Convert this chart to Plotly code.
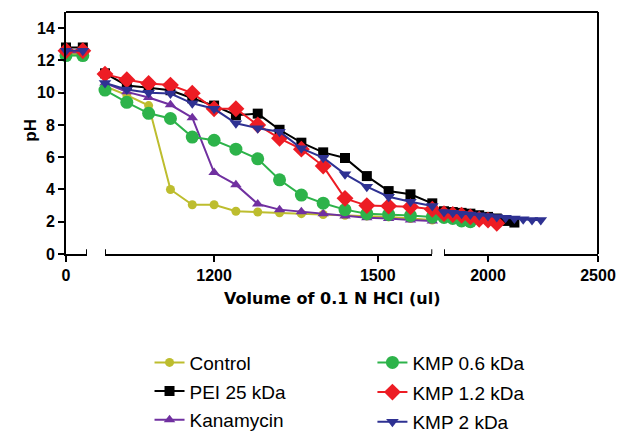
import plotly.graph_objects as go

# ---------------- data ----------------
X_SEG1 = [0, 80]
X_SEG2 = [1000, 1040, 1080, 1120, 1160, 1200, 1240, 1280, 1320, 1360, 1400, 1440, 1480, 1520, 1560, 1600]

control_seg1 = [12.4, 12.4]
control_seg2 = [10.4, 9.85, 9.2, 4.0, 3.05, 3.05, 2.65, 2.6, 2.55, 2.5, 2.45, 2.4, 2.35, 2.3, 2.2, 2.1]
control_x3 = []
control_seg3 = []

pei_seg1 = [12.8, 12.8]
pei_seg2 = [11.2, 10.45, 10.3, 10.15, 9.65, 9.2, 8.6, 8.7, 7.7, 6.9, 6.3, 5.95, 4.83, 3.9, 3.7, 3.14]
pei_x3 = [1800, 1840, 1880, 1920, 1960, 2000, 2040, 2080, 2120]
pei_seg3 = [2.65, 2.6, 2.55, 2.5, 2.4, 2.3, 2.2, 2.05, 1.95]

kana_seg1 = [12.5, 12.5]
kana_seg2 = [10.6, 10.05, 9.7, 9.25, 8.45, 5.05, 4.3, 3.1, 2.75, 2.62, 2.5, 2.35, 2.25, 2.2, 2.1, 2.05]
kana_x3 = []
kana_seg3 = []

kmp06_seg1 = [12.3, 12.3]
kmp06_seg2 = [10.16, 9.4, 8.72, 8.4, 7.25, 7.05, 6.5, 5.9, 4.6, 3.65, 3.15, 2.75, 2.5, 2.45, 2.38, 2.3]
kmp06_x3 = [1800, 1840, 1880, 1920]
kmp06_seg3 = [2.27, 2.2, 2.05, 2.0]

kmp12_seg1 = [12.6, 12.6]
kmp12_seg2 = [11.15, 10.8, 10.57, 10.47, 9.97, 9.0, 9.0, 8.0, 7.17, 6.5, 5.45, 3.45, 3.0, 2.97, 2.93, 2.77]
kmp12_x3 = [1800, 1840, 1880, 1920, 1960, 2000, 2040]
kmp12_seg3 = [2.5, 2.45, 2.4, 2.3, 2.15, 2.1, 1.9]

kmp2_seg1 = [12.6, 12.6]
kmp2_seg2 = [10.6, 10.2, 10.0, 9.95, 9.34, 9.0, 8.1, 7.8, 7.58, 6.55, 5.97, 4.95, 4.17, 3.55, 3.24, 2.97]
kmp2_x3 = [1800, 1840, 1880, 1920, 1960, 2000, 2040, 2080, 2120, 2160, 2200, 2240]
kmp2_seg3 = [2.6, 2.55, 2.5, 2.45, 2.4, 2.35, 2.3, 2.25, 2.2, 2.15, 2.1, 2.1]

X_TICKS1 = [0]
X_TICKS2 = [1200, 1500]
X_TICKS3 = [2000, 2500]
Y_TICKS = [0, 2, 4, 6, 8, 10, 12, 14]

series = [
    # name, seg1, seg2, x3, seg3, color, symbol, size, legend
    ("Control", control_seg1, control_seg2, control_x3, control_seg3, "#BDBD2E", "circle", 9, "legend"),
    ("PEI 25 kDa", pei_seg1, pei_seg2, pei_x3, pei_seg3, "#000000", "square", 10, "legend"),
    ("Kanamycin", kana_seg1, kana_seg2, kana_x3, kana_seg3, "#7030A0", "triangle-up", 10, "legend"),
    ("KMP 0.6 kDa", kmp06_seg1, kmp06_seg2, kmp06_x3, kmp06_seg3, "#2DB34A", "circle", 13, "legend2"),
    ("KMP 1.2 kDa", kmp12_seg1, kmp12_seg2, kmp12_x3, kmp12_seg3, "#ED1C24", "diamond", 13, "legend2"),
    ("KMP 2 kDa", kmp2_seg1, kmp2_seg2, kmp2_x3, kmp2_seg3, "#2E3192", "triangle-down", 11, "legend2"),
]

fig = go.Figure()
for name, s1, s2, x3, s3, color, sym, size, leg in series:
    common = dict(mode="lines+markers", legendgroup=name, name=name, cliponaxis=False,
                  line=dict(color=color, width=2),
                  marker=dict(color=color, symbol=sym, size=size, line=dict(width=0)))
    fig.add_trace(go.Scatter(x=X_SEG1, y=s1, xaxis="x", yaxis="y", showlegend=False, **common))
    fig.add_trace(go.Scatter(x=X_SEG2, y=s2, xaxis="x2", yaxis="y", showlegend=True, legend=leg, **common))
    if x3:
        fig.add_trace(go.Scatter(x=x3, y=s3, xaxis="x3", yaxis="y", showlegend=False, **common))


def bold(vals):
    return ["<b>%d</b>" % v for v in vals]


tickfont = dict(family="Liberation Sans, Arial", size=16, color="black")
xcommon = dict(showline=True, linecolor="black", linewidth=2, ticks="outside", ticklen=6,
               tickwidth=2, tickcolor="black", showgrid=False, zeroline=False,
               tickfont=tickfont, anchor="y", fixedrange=True, tickmode="array")

legfont = dict(family="Liberation Sans, Arial", size=19, color="black")

fig.update_layout(
    width=618, height=432,
    margin=dict(l=66, r=20, t=12, b=178, autoexpand=False),
    paper_bgcolor="white", plot_bgcolor="white",
    xaxis=dict(domain=[0, 0.0395], range=[0, 100], tickvals=X_TICKS1, ticktext=bold(X_TICKS1), **xcommon),
    xaxis2=dict(domain=[0.0733, 0.6885], range=[1000, 1600], tickvals=X_TICKS2, ticktext=bold(X_TICKS2), **xcommon),
    xaxis3=dict(domain=[0.7105, 1.0], range=[1800, 2500], tickvals=X_TICKS3, ticktext=bold(X_TICKS3), **xcommon),
    yaxis=dict(range=[0, 15], tickmode="array", tickvals=Y_TICKS, ticktext=bold(Y_TICKS),
               showline=True, linecolor="black", linewidth=2,
               ticks="outside", ticklen=6, tickwidth=2, tickcolor="black", showgrid=False,
               zeroline=False, tickfont=tickfont, anchor="x", fixedrange=True),
    legend=dict(x=0.157, y=-0.37, xanchor="left", yanchor="top", traceorder="grouped",
                tracegroupgap=1, font=legfont, bgcolor="rgba(0,0,0,0)"),
    legend2=dict(x=0.576, y=-0.37, xanchor="left", yanchor="top", traceorder="grouped",
                 tracegroupgap=2, font=legfont, bgcolor="rgba(0,0,0,0)"),
    showlegend=True,
)

# axis titles
fig.add_annotation(text="<b>Volume of 0.1 N HCl (ul)</b>", xref="paper", yref="paper", x=0.5, y=-0.182,
                   showarrow=False, yanchor="middle",
                   font=dict(family="DejaVu Sans", size=16, color="black"))
fig.add_annotation(text="<b>pH</b>", xref="paper", yref="paper", x=-0.09, y=0.512, textangle=-90,
                   showarrow=False, font=dict(family="Liberation Sans, Arial", size=17, color="black"))

# frame: top and right lines
fig.add_shape(type="line", xref="paper", yref="paper", x0=0, x1=1, y0=1, y1=1,
              line=dict(color="black", width=2))
fig.add_shape(type="line", xref="paper", yref="paper", x0=1, x1=1, y0=0, y1=1,
              line=dict(color="black", width=2))

# break end caps on the x axis segments
for xr, xv in [("x", 100), ("x2", 1000), ("x2", 1600), ("x3", 1800)]:
    fig.add_shape(type="line", xref=xr, yref="y", x0=xv, x1=xv, y0=-0.3, y1=0.3,
                  line=dict(color="black", width=2))

fig.write_html("out.html")
